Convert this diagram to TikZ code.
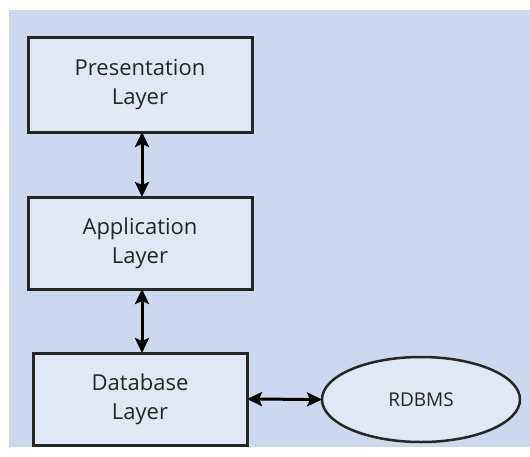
\documentclass[tikz,border=0pt]{standalone}
\usepackage{fontspec}
\setmainfont[Ligatures={NoCommon}]{Open Sans}
\usetikzlibrary{arrows.meta,shapes.geometric}
\definecolor{panel}{RGB}{203,216,238}
\definecolor{boxfill}{RGB}{222,233,245}
\begin{document}
\begin{tikzpicture}[x=1pt,y=-1pt,
  layer/.style={draw=black!85,line width=3pt,fill=boxfill,align=center,
    font=\fontsize{22}{29}\selectfont,text=black!85},
  link/.style={line width=3pt,draw=black,{Stealth[length=15pt,width=14pt,inset=3pt]}-{Stealth[length=15pt,width=14pt,inset=3pt]}},
  every node/.style={inner sep=0pt,outer sep=0pt}]
  \useasboundingbox (0,0) rectangle (530,456);
  \fill[panel] (9,10) rectangle (530,447);
  \node[layer,minimum width=224pt,minimum height=95pt] (pres) at (140,84.5) {Presentation\\Layer};
  \node[layer,minimum width=224pt,minimum height=92pt] (app) at (140,243) {Application\\Layer};
  \node[layer,minimum width=214pt,minimum height=92pt] (db) at (140,399) {Database\\Layer};
  \node[ellipse,draw=black!85,line width=2.5pt,fill=boxfill,minimum width=198pt,minimum height=85pt,
    font=\fontsize{19}{24}\selectfont,text=black!85] (rdbms) at (421,399.5) {RDBMS};
  \draw[link] (pres.south -| 142,0) -- (app.north -| 142,0);
  \draw[link] (app.south -| 142,0) -- (db.north -| 142,0);
  \draw[link] (db.east) -- (rdbms.west);
\end{tikzpicture}
\end{document}
